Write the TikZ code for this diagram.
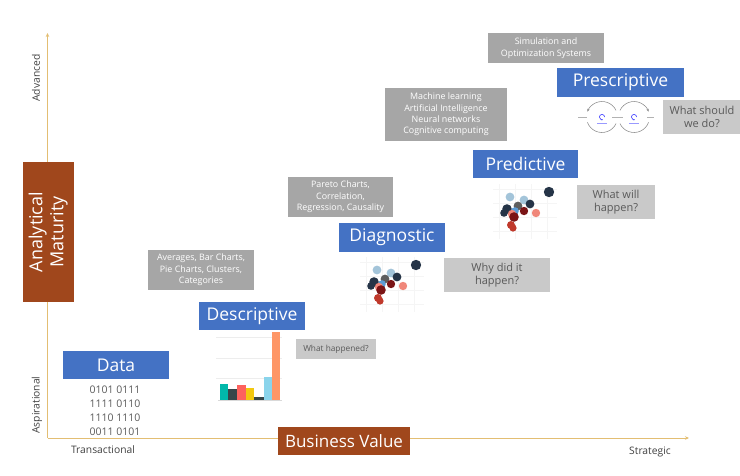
\documentclass[tikz,border=0pt]{standalone}
\usepackage{fontspec}
\setmainfont{Open Sans}
\usetikzlibrary{arrows.meta}
\definecolor{myblue}{HTML}{4472C4}
\definecolor{mybrown}{HTML}{A0471C}
\definecolor{toolgray}{HTML}{A6A6A6}
\definecolor{qgray}{HTML}{C9C9C9}
\definecolor{qtext}{HTML}{595959}
\definecolor{axiscol}{HTML}{E3BE73}
\definecolor{labtext}{HTML}{404040}
\definecolor{cnavy}{HTML}{253447}
\definecolor{clblue}{HTML}{A3C4D9}
\definecolor{cgray}{HTML}{5E5E5E}
\definecolor{cdred}{HTML}{7A1416}
\definecolor{csalmon}{HTML}{F0877A}
\definecolor{cblue}{HTML}{5B9BD5}
\definecolor{cred}{HTML}{C0392B}
\definecolor{bteal}{HTML}{01B8AA}
\definecolor{bdark}{HTML}{374649}
\definecolor{bred}{HTML}{FD625E}
\definecolor{byellow}{HTML}{F2C80F}
\definecolor{blblue}{HTML}{8AD4EB}
\definecolor{borange}{HTML}{FE9666}
\newcommand{\scatterfig}{%
  \foreach \yy in {262,276,290,304}{\draw[black!4,line width=0.4pt] (360,\yy) -- (424,\yy);}
  \foreach \xx in {366,382,398,414}{\draw[black!4,line width=0.4pt] (\xx,257) -- (\xx,312);}
  \fill[cnavy] (416,265) circle[radius=5.2pt];
  \fill[clblue] (377,270) circle[radius=4.4pt];
  \fill[clblue] (391,273) circle[radius=4.4pt];
  \fill[cnavy] (397,277) circle[radius=4.4pt];
  \fill[cgray] (385,279) circle[radius=4.4pt];
  \fill[cnavy] (374,282) circle[radius=4.8pt];
  \fill[cnavy] (371,286) circle[radius=3.8pt];
  \fill[cdred] (391,284) circle[radius=4.2pt];
  \fill[csalmon] (403,286) circle[radius=4.2pt];
  \fill[cblue] (382,284) circle[radius=3.8pt];
  \fill[csalmon] (379,287) circle[radius=4.2pt];
  \fill[cdred] (381,290) circle[radius=4.8pt];
  \fill[cred] (378,298) circle[radius=4pt];
  \fill[cred] (380,301) circle[radius=3.6pt];
}
\tikzset{
  stage/.style={fill=myblue,text=white,inner sep=0pt,font=\fontsize{17.5}{20}\selectfont},
  axisbox/.style={fill=mybrown,text=white,inner sep=0pt,align=center},
  toolbox/.style={fill=toolgray,text=white,inner sep=0pt,align=center,font=\fontsize{8.9}{11.4}\selectfont},
  qbox/.style={fill=qgray,text=qtext,inner sep=0pt,align=center,font=\fontsize{11}{13.6}\selectfont},
  axislabel/.style={text=labtext,inner sep=0pt,font=\fontsize{10.3}{12}\selectfont},
  axisline/.style={draw=axiscol,line width=0.9pt,-{Stealth[length=4pt,width=3.5pt]}},
  loopline/.style={draw=black!45,line width=0.55pt},
  looptip/.style={-{Stealth[length=3pt,width=2.5pt]}},
}
\begin{document}
\begin{tikzpicture}[x=1pt,y=-1pt]
\useasboundingbox (0,0) rectangle (740,475);
% axes
\coordinate (O) at (47.5,438);
\coordinate (ytop) at (47.5,33);
\coordinate (xend) at (689,438);
\draw[axisline] (O) -- (ytop);
\draw[axisline] (O) -- (xend);
% axis boxes
\node[axisbox,minimum width=51pt,minimum height=140pt] (am) at (48.2,232) {};
\node[text=white,rotate=90,align=center,inner sep=0pt,font=\fontsize{18}{21}\selectfont] (amt) at (am.center) {Analytical\\Maturity};
\node[axisbox,minimum width=132pt,minimum height=28pt,font=\fontsize{17}{20}\selectfont] (bv) at (344,441) {Business Value};
% axis labels
\node[axislabel,rotate=90] (adv) at (36,78) {Advanced};
\node[axislabel,rotate=90] (asp) at (37,405) {Aspirational};
\node[axislabel] (tra) at (103,450) {Transactional};
\node[axislabel] (str) at (650,452) {Strategic};
% stages
\node[stage,minimum width=106pt,minimum height=28pt] (data) at (116,365) {Data};
\node[stage,minimum width=106pt,minimum height=28pt] (desc) at (252,316) {Descriptive};
\node[stage,minimum width=106pt,minimum height=29pt] (diag) at (392,237.5) {Diagnostic};
\node[stage,minimum width=105pt,minimum height=28pt] (pred) at (525.5,164) {Predictive};
\node[stage,minimum width=127pt,minimum height=29pt] (presc) at (620.5,82.5) {Prescriptive};
% binary
\node[text=qtext,align=center,inner sep=0pt,font=\fontsize{10.5}{14}\selectfont] (bin) at (115,411) {0101 0111\\1111 0110\\1110 1110\\0011 0101};
% tool boxes
\node[toolbox,minimum width=106pt,minimum height=40pt] (avg) at (201,270) {Averages, Bar Charts,\\Pie Charts, Clusters,\\Categories};
\node[toolbox,minimum width=105pt,minimum height=40pt] (par) at (340.5,197) {Pareto Charts,\\Correlation,\\Regression, Causality};
\node[toolbox,minimum width=122pt,minimum height=53pt] (ml) at (446,114.5) {Machine learning\\Artificial Intelligence\\Neural networks\\Cognitive computing};
\node[toolbox,minimum width=116pt,minimum height=30pt] (sim) at (546,48) {Simulation and\\Optimization Systems};
% question boxes
\node[qbox,minimum width=80pt,minimum height=20pt,font=\fontsize{8.3}{11}\selectfont] (q1) at (336,349) {What happened?};
\node[qbox,minimum width=106pt,minimum height=34pt] (q2) at (497,275) {Why did it\\happen?};
\node[qbox,minimum width=78pt,minimum height=34pt] (q3) at (616,202) {What will\\happen?};
\node[qbox,minimum width=78pt,minimum height=34pt] (q4) at (702,117) {What should\\we do?};
% bar chart
\foreach \yy in {337,358,378}{\draw[black!7,line width=0.4pt] (216,\yy) -- (282,\yy);}
\fill[bteal] (220,384) rectangle (228,400);
\fill[bdark] (228,389) rectangle (237,400);
\fill[bred] (237,385) rectangle (246,400);
\fill[byellow] (246,388) rectangle (254,400);
\fill[bdark] (254,397) rectangle (264,400);
\fill[blblue] (264,377) rectangle (272,400);
\fill[borange] (272,332) rectangle (280,400);
\draw[black!15,line width=0.4pt] (218,400) -- (282,400);
% scatter plots
\begin{scope}
\scatterfig
\end{scope}
\begin{scope}[shift={(133,-73)}]
\scatterfig
\end{scope}
% prescriptive loops: left circle centre (602,117), right (634,117), r 15.5
\coordinate (lc) at (602,117);
\coordinate (rc) at (634,117);
\draw[loopline,looptip] ([shift={(25:15.5pt)}]lc) arc[start angle=25,end angle=160,radius=15.5pt];
\draw[loopline] ([shift={(200:15.5pt)}]lc) arc[start angle=200,end angle=335,radius=15.5pt];
\draw[loopline,looptip] ([shift={(155:15.5pt)}]rc) arc[start angle=155,end angle=20,radius=15.5pt];
\draw[loopline] ([shift={(340:15.5pt)}]rc) arc[start angle=340,end angle=205,radius=15.5pt];
\draw[black!30,line width=1pt] (578,117) -- (587,117);
\draw[black!30,line width=1pt] (612,117) -- (623,117);
\draw[black!30,line width=1pt] (647,117) -- (654,117);
\draw[blue!70,line width=0.7pt,-{Stealth[length=1.5pt,width=1.5pt]}] ([shift={(0:2.6pt)}]lc) arc[start angle=0,end angle=290,radius=2.6pt];
\draw[blue!70,line width=0.7pt,-{Stealth[length=1.5pt,width=1.5pt]}] ([shift={(0:2.6pt)}]rc) arc[start angle=0,end angle=290,radius=2.6pt];
\draw[blue!40,line width=0.8pt] (597,123.5) -- (607,123.5);
\draw[blue!40,line width=0.8pt] (629,123.5) -- (639,123.5);
\end{tikzpicture}
\end{document}
